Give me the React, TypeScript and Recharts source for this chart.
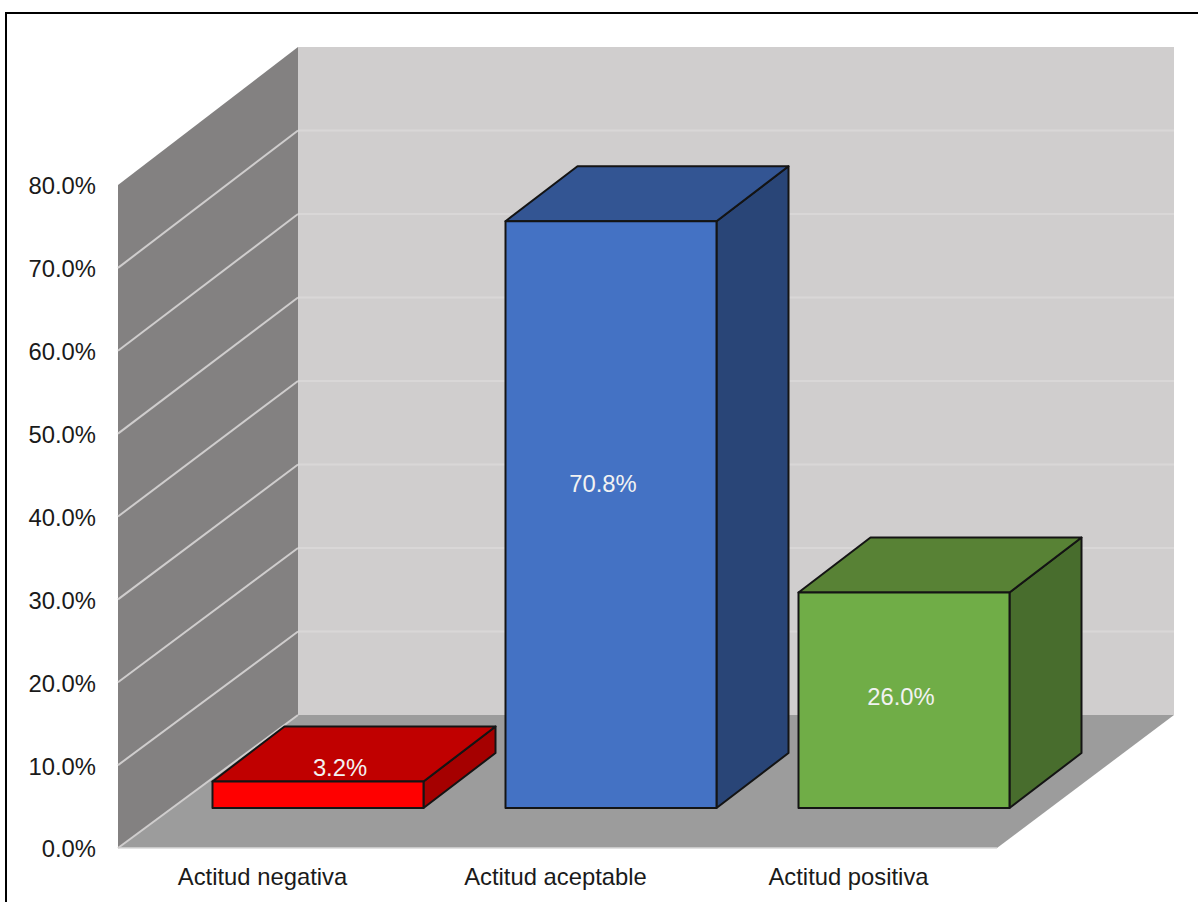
import { Bar, BarChart, LabelList, ReferenceArea, XAxis, YAxis } from 'recharts'

const categories = ['Actitud negativa', 'Actitud aceptable', 'Actitud positiva']
const percentages = [3.2, 70.8, 26.0]
const yTicks = [0, 10, 20, 30, 40, 50, 60, 70, 80]

const frontColors = ['#ff0000', '#4472c4', '#70ad47']
const topColors = ['#c00000', '#335593', '#588235']
const sideColors = ['#a50000', '#294577', '#486d2d']

// hand-placed label nudges, relative to the centre of each front face
const labelNudges = [
  [22, -27],
  [-8, -31],
  [-3, -4],
]

const data = categories.map((name, i) => ({ name, value: percentages[i] }))

const WIDTH = 1198
const HEIGHT = 902
const FONT = '"Liberation Sans", Arial, sans-serif'
const Y_MAX = 80

// oblique projection of the chart box
const WALL_DX = 180
const WALL_DY = 133
const WALL_DY_TOP = 138
const FLOOR_RIGHT_DX = 177
// bars stand on the floor, in front of the back wall
const BAR_SHIFT_X = 53.5
const BAR_SHIFT_Y = -40
const BAR_DEPTH_X = 72
const BAR_DEPTH_Y = 55

const pts = (list: number[][]) => list.map((p) => p.join(',')).join(' ')

// side wall, back wall, floor and wall gridlines, built from the plot rectangle
function Walls({ x, y, width, height }: any) {
  const bottom = y + height
  const right = x + width
  const backX = x + WALL_DX
  const backRight = right + FLOOR_RIGHT_DX
  return (
    <g>
      <polygon
        points={pts([
          [backX, y - WALL_DY_TOP],
          [backRight, y - WALL_DY_TOP],
          [backRight, bottom - WALL_DY],
          [backX, bottom - WALL_DY],
        ])}
        fill="#d0cece"
      />
      <polygon
        points={pts([
          [x, y],
          [backX, y - WALL_DY_TOP],
          [backX, bottom - WALL_DY],
          [x, bottom],
        ])}
        fill="#838181"
      />
      <polygon
        points={pts([
          [x, bottom],
          [backX, bottom - WALL_DY],
          [backRight, bottom - WALL_DY],
          [right, bottom],
        ])}
        fill="#9c9c9c"
      />
      <line x1={x} y1={bottom} x2={right} y2={bottom} stroke="#d9d9d9" strokeWidth={1.5} />
      {yTicks
        .filter((v) => v < Y_MAX)
        .map((v) => {
          const lineY = bottom - (height * v) / Y_MAX
          const rise = WALL_DY + ((WALL_DY_TOP - WALL_DY) * v) / Y_MAX
          return (
            <g key={v}>
              <line x1={x} y1={lineY} x2={backX} y2={lineY - rise} stroke="#cfcdcd" strokeWidth={2} />
              {v > 0 && (
                <line
                  x1={backX}
                  y1={lineY - rise}
                  x2={backRight}
                  y2={lineY - rise}
                  stroke="#d9d7d7"
                  strokeWidth={2}
                />
              )}
            </g>
          )
        })}
    </g>
  )
}

function Box3D({ x, y, width, height, index }: any) {
  const left = x + BAR_SHIFT_X
  const right = left + width
  const top = y + BAR_SHIFT_Y
  const bottom = top + height
  const stroke = { stroke: '#141414', strokeWidth: 2, strokeLinejoin: 'round' as const }
  return (
    <g>
      <polygon
        points={pts([
          [right, top],
          [right + BAR_DEPTH_X, top - BAR_DEPTH_Y],
          [right + BAR_DEPTH_X, bottom - BAR_DEPTH_Y],
          [right, bottom],
        ])}
        fill={sideColors[index]}
        {...stroke}
      />
      <polygon
        points={pts([
          [left, top],
          [left + BAR_DEPTH_X, top - BAR_DEPTH_Y],
          [right + BAR_DEPTH_X, top - BAR_DEPTH_Y],
          [right, top],
        ])}
        fill={topColors[index]}
        {...stroke}
      />
      <rect x={left} y={top} width={width} height={height} fill={frontColors[index]} {...stroke} />
    </g>
  )
}

function BoxLabel({ x, y, width, height, value, index }: any) {
  const [nx, ny] = labelNudges[index]
  return (
    <text
      x={x + BAR_SHIFT_X + width / 2 + nx}
      y={y + BAR_SHIFT_Y + height / 2 + ny}
      textAnchor="middle"
      dominantBaseline="central"
      fontFamily={FONT}
      fontSize={23.8}
      fill="#f2f2f2"
    >
      {`${Number(value).toFixed(1)}%`}
    </text>
  )
}

export default function App() {
  return (
    <div
      style={{
        position: 'absolute',
        left: 0,
        top: 0,
        width: WIDTH,
        height: HEIGHT,
        overflow: 'hidden',
        background: '#fff',
      }}
    >
      <div
        style={{
          position: 'absolute',
          left: 5,
          top: 12,
          width: WIDTH,
          height: HEIGHT,
          borderLeft: '2px solid #000',
          borderTop: '2px solid #000',
        }}
      />
      <div style={{ position: 'absolute', left: 0, top: 0 }}>
        <BarChart
          width={WIDTH}
          height={HEIGHT}
          data={data}
          margin={{ top: 185, right: 201, bottom: 0, left: 0 }}
          barSize={211}
          style={{ fontFamily: FONT, overflow: 'visible' }}
        >
          <XAxis
            dataKey="name"
            height={54}
            axisLine={false}
            tickLine={false}
            tickSize={0}
            tickMargin={20}
            interval={0}
            tick={{ fill: '#1a1a1a', fontSize: 23.8, dx: -2 }}
          />
          <YAxis
            width={118}
            domain={[0, Y_MAX]}
            ticks={yTicks}
            interval={0}
            axisLine={false}
            tickLine={false}
            tickSize={0}
            tickMargin={22}
            tick={{ fill: '#1a1a1a', fontSize: 23.8, dy: 1 }}
            tickFormatter={(v: number) => `${v.toFixed(1)}%`}
          />
          <ReferenceArea y1={0} y2={Y_MAX} ifOverflow="visible" shape={Walls} />
          <Bar dataKey="value" shape={Box3D} isAnimationActive={false}>
            <LabelList dataKey="value" content={BoxLabel} />
          </Bar>
        </BarChart>
      </div>
    </div>
  )
}
